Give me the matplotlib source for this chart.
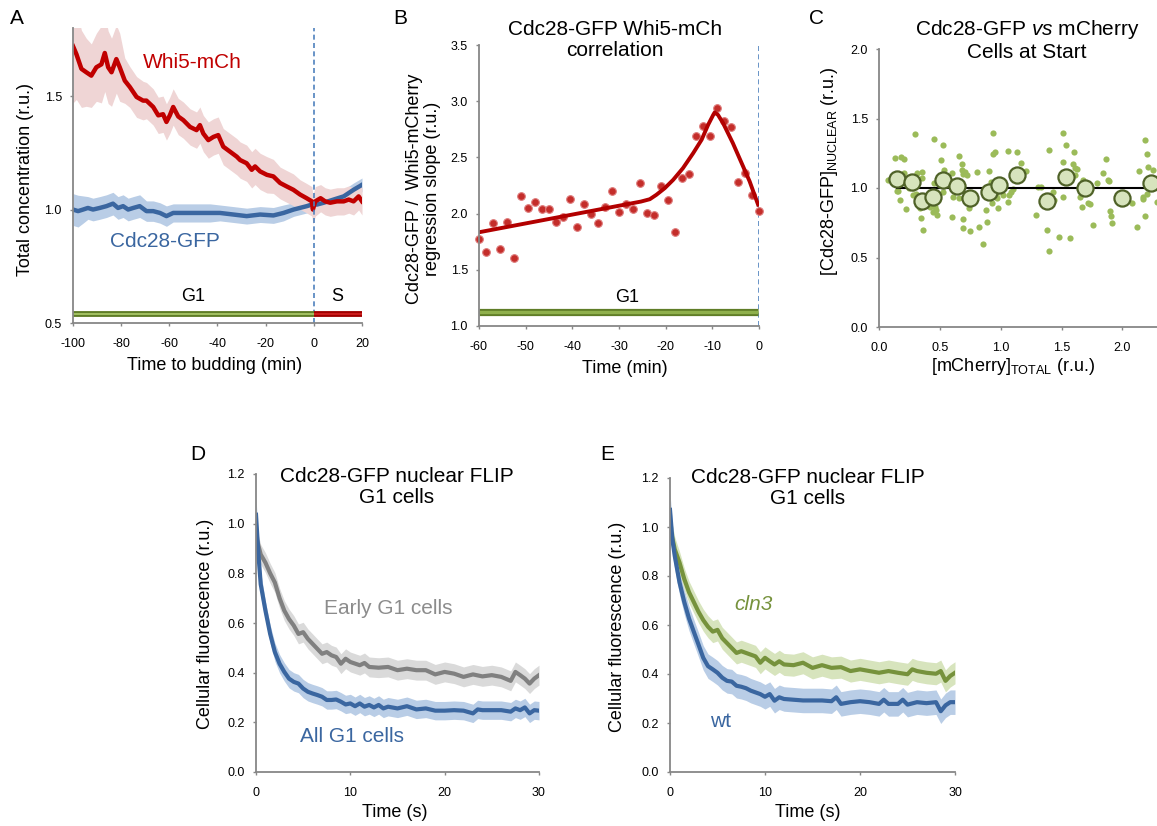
import numpy as np
import matplotlib
matplotlib.use('Agg')
import matplotlib.pyplot as plt
from matplotlib.transforms import Affine2D

plt.rcParams['font.family'] = ['Liberation Sans', 'DejaVu Sans']
plt.rcParams['mathtext.fontset'] = 'custom'
plt.rcParams['mathtext.rm'] = 'Liberation Sans'
plt.rcParams['mathtext.it'] = 'Liberation Sans:italic'
plt.rcParams['axes.unicode_minus'] = False

W, H = 1157, 826

# ---- panel A : total concentration vs time to budding
t_whi5 = [-100, -98.6, -96.5, -94.5, -92.4, -90.3, -88.2, -86.8, -85.4, -84, -82, -80.6,
          -78.5, -76.4, -73.6, -70.9, -69.5, -66.7, -64.6, -62.6, -61.2, -59.8, -58.4,
          -56.3, -54.2, -51.4, -48.7, -47.3, -45.9, -43.8, -41.7, -39.7, -37.6, -34.8,
          -32, -30.6, -27.9, -25.8, -24.4, -22.3, -19.5, -16.8, -14, -11.3, -8.5, -5.7,
          -3, -0.8, -0.4, 0.6, 2.8, 4.7, 6.8, 9.6, 12.4, 14.5, 16.5, 18.6, 20]
whi5 = [1.72, 1.685, 1.62, 1.605, 1.59, 1.627, 1.64, 1.69, 1.627, 1.605, 1.663, 1.627,
        1.568, 1.54, 1.496, 1.48, 1.48, 1.452, 1.415, 1.42, 1.386, 1.415, 1.452,
        1.41, 1.394, 1.364, 1.35, 1.372, 1.335, 1.306, 1.32, 1.328, 1.277, 1.255,
        1.233, 1.218, 1.204, 1.175, 1.19, 1.168, 1.153, 1.146, 1.117, 1.102, 1.087, 1.066,
        1.05, 1.036, 1.0, 1.036, 1.05, 1.036, 1.03, 1.036, 1.036, 1.044, 1.036, 1.058, 1.036]
whi5_err = [0.25, 0.2, 0.17, 0.15, 0.14, 0.15, 0.17, 0.17, 0.16, 0.15, 0.15, 0.15,
            0.1, 0.09, 0.09, 0.085, 0.08, 0.08, 0.08, 0.08, 0.08, 0.08, 0.08,
            0.08, 0.08, 0.08, 0.08, 0.08, 0.08, 0.08, 0.08, 0.08, 0.08, 0.08,
            0.08, 0.08, 0.08, 0.08, 0.08, 0.08, 0.08, 0.075, 0.07, 0.07, 0.07, 0.065,
            0.065, 0.065, 0.065, 0.065, 0.06, 0.06, 0.06, 0.06, 0.06, 0.06, 0.06, 0.06, 0.06]

t_cdc = [-100, -97.9, -95.8, -93.8, -91.7, -88.9, -86.1, -83.4, -81.3, -79.2, -77.1, -75,
         -72.3, -69.5, -66.7, -63.9, -61.2, -58.4, -55.6, -51.4, -47.3, -43.1, -39,
         -33.4, -27.9, -22.3, -16.8, -12.6, -8.4, -2.9, -0.8, 1.3, 4.1, 8.2, 12.4, 16.5, 20]
cdc = [1.0, 0.993, 1.0, 1.007, 1.0, 1.007, 1.015, 1.026, 1.007, 1.015, 1.0, 1.007,
       1.015, 0.993, 0.993, 0.985, 0.971, 0.985, 0.985, 0.985, 0.985, 0.985, 0.985,
       0.978, 0.971, 0.978, 0.974, 0.985, 1.0, 1.015, 1.022, 1.022, 1.03, 1.044, 1.058, 1.087, 1.109]
cdc_err = [0.07, 0.07, 0.06, 0.05, 0.05, 0.05, 0.05, 0.05, 0.05, 0.05, 0.05, 0.05,
           0.05, 0.045, 0.045, 0.045, 0.045, 0.04, 0.04, 0.04, 0.04, 0.04, 0.035,
           0.035, 0.035, 0.035, 0.035, 0.035, 0.03, 0.03, 0.03, 0.03, 0.03, 0.03, 0.03, 0.03, 0.03]

# ---- panel B : regression slope
t_slope = np.arange(-60, 0.01, 1.5)
slope = [1.772, 1.662, 1.914, 1.686, 1.923, 1.609, 2.161, 2.054, 2.107, 2.045, 2.045,
         1.926, 1.974, 2.131, 1.885, 2.087, 1.992, 1.914, 2.057, 2.205, 2.015, 2.087,
         2.045, 2.268, 2.009, 1.986, 2.247, 2.122, 1.834, 2.318, 2.348, 2.686, 2.776,
         2.686, 2.936, 2.823, 2.770, 2.280, 2.360, 2.167, 2.027]
t_fit = [-60, -25.3, -23.4, -22.0, -20.2, -18.4, -16.3, -14.1, -12.3, -10.9, -9.8, -9.5,
         -8.8, -7.7, -5.6, -3.4, -2.0, -0.2]
fit = [1.834, 2.107, 2.128, 2.167, 2.226, 2.30, 2.404, 2.538, 2.657, 2.79, 2.879, 2.90,
       2.879, 2.805, 2.627, 2.419, 2.286, 2.08]

# ---- panel C : cells at Start
cells_x = [0.071, 0.132, 0.145, 0.16, 0.178, 0.205, 0.173, 0.222, 0.205, 0.25, 0.28, 0.296,
           0.277, 0.30, 0.31, 0.337, 0.351, 0.351, 0.345, 0.364, 0.392, 0.40, 0.405, 0.42,
           0.452, 0.455, 0.447, 0.46, 0.47, 0.474, 0.485, 0.512, 0.529, 0.529, 0.534,
           0.597, 0.603, 0.603, 0.611, 0.66, 0.66, 0.679, 0.679, 0.693, 0.688, 0.693,
           0.707, 0.726, 0.74, 0.748, 0.808, 0.825, 0.852, 0.877, 0.885, 0.904, 0.912,
           0.92, 0.932, 0.94, 0.94, 0.953, 0.96, 0.967, 0.981, 1.016, 1.058, 1.063, 1.071,
           1.088, 1.104, 1.137, 1.164, 1.205, 1.29, 1.304, 1.332, 1.384, 1.40, 1.433,
           1.441, 1.40, 1.479, 1.51, 1.51, 1.515, 1.537, 1.57, 1.603, 1.597, 1.611, 1.63,
           1.61, 1.652, 1.666, 1.68, 1.72, 1.734, 1.762, 1.789, 1.838, 1.866, 1.885,
           1.893, 1.899, 1.907, 1.912, 2.077, 2.123, 2.14, 2.167, 2.173, 2.186, 2.2,
           2.186, 2.208, 2.20, 2.25, 2.282]
cells_y = [1.058, 1.214, 0.981, 0.975, 1.226, 1.207, 0.913, 0.846, 1.106, 1.0, 1.0, 1.387,
           0.95, 0.955, 1.106, 0.853, 1.07, 1.113, 0.781, 0.697, 0.913, 0.95, 0.877, 0.86,
           1.353, 1.038, 0.829, 0.865, 0.84, 0.805, 0.913, 1.202, 1.31, 0.974, 1.13,
           1.01, 1.106, 0.788, 0.938, 1.231, 0.93, 1.171, 1.13, 1.101, 0.774, 0.709,
           1.118, 1.094, 0.853, 0.69, 1.118, 0.721, 0.594, 0.841, 0.757, 1.125, 0.962,
           1.04, 0.894, 1.394, 1.243, 1.262, 0.95, 0.926, 0.853, 0.95, 1.269, 0.901, 0.95,
           0.969, 0.99, 1.262, 1.183, 1.123, 0.805, 1.01, 1.01, 0.697, 1.274, 0.974,
           0.913, 0.548, 0.644, 1.394, 1.19, 0.933, 1.31, 0.642, 1.262, 1.173, 1.142, 1.135,
           1.09, 0.933, 0.861, 1.06, 0.89, 0.885, 0.733, 1.038, 1.106, 1.207, 1.06,
           1.05, 0.837, 0.798, 0.75, 0.889, 0.721, 1.123, 0.938, 0.921, 1.346, 1.243,
           0.798, 1.154, 0.96, 1.13, 0.901]
bin_x = [0.151, 0.274, 0.356, 0.447, 0.523, 0.638, 0.748, 0.904, 0.986, 1.132, 1.378,
         1.537, 1.693, 1.995, 2.233]
bin_y = [1.065, 1.045, 0.905, 0.935, 1.06, 1.015, 0.93, 0.97, 1.02, 1.09, 0.905,
         1.08, 1.0, 0.93, 1.037]

# ---- panel D : FLIP early vs all G1
t_early = [0, 0.5, 1, 1.5, 2, 2.5, 3, 3.5, 4, 4.5, 5, 5.5, 6, 6.5, 7, 7.5, 8, 8.5, 9, 9.5,
           10, 11, 11.5, 12, 13, 14, 15, 16, 17, 18, 19, 20, 21, 22, 23, 24, 25, 26, 27,
           27.5, 28, 28.5, 29, 29.5, 30]
early = [0.95, 0.876, 0.843, 0.80, 0.763, 0.70, 0.65, 0.616, 0.59, 0.556, 0.563, 0.536,
         0.516, 0.496, 0.476, 0.483, 0.47, 0.463, 0.436, 0.456, 0.443, 0.43, 0.439, 0.423,
         0.42, 0.423, 0.41, 0.416, 0.41, 0.41, 0.393, 0.403, 0.396, 0.383, 0.393, 0.385,
         0.39, 0.383, 0.367, 0.403, 0.39, 0.376, 0.356, 0.376, 0.39]
t_allg1 = [0, 0.25, 0.5, 1, 1.5, 2, 2.5, 3, 3.5, 4, 4.5, 5, 5.5, 6, 6.5, 7, 7.5, 8, 8.5, 9,
           9.5, 10, 10.5, 11, 11.5, 12, 12.5, 13, 13.5, 14, 15, 16, 17, 18, 19, 20, 21, 22,
           23, 23.5, 24, 25, 26, 27, 27.5, 28, 28.5, 29, 29.5, 30]
allg1 = [1.036, 0.88, 0.756, 0.65, 0.556, 0.483, 0.436, 0.403, 0.376, 0.363, 0.356, 0.336,
         0.323, 0.316, 0.31, 0.303, 0.29, 0.29, 0.292, 0.283, 0.272, 0.276, 0.265, 0.276,
         0.263, 0.27, 0.26, 0.27, 0.256, 0.263, 0.256, 0.265, 0.252, 0.256, 0.247, 0.247,
         0.249, 0.247, 0.236, 0.252, 0.249, 0.249, 0.249, 0.243, 0.256, 0.249, 0.26, 0.236,
         0.249, 0.247]

# ---- panel E : FLIP cln3 vs wt
t_cln3 = [0, 0.5, 1, 1.5, 2, 2.5, 3, 3.5, 4, 4.5, 5, 5.5, 6, 6.5, 7, 7.5, 8, 8.5, 9, 9.5,
          10, 10.5, 11, 11.5, 12, 13, 14, 15, 16, 17, 18, 19, 20, 21, 22, 23, 24, 25, 25.5,
          26, 27, 28, 28.5, 29, 29.5, 30]
cln3 = [1.0, 0.909, 0.855, 0.788, 0.734, 0.694, 0.654, 0.62, 0.593, 0.573, 0.58, 0.546,
        0.526, 0.506, 0.486, 0.493, 0.486, 0.479, 0.472, 0.446, 0.466, 0.452, 0.439, 0.452,
        0.439, 0.436, 0.446, 0.425, 0.436, 0.425, 0.428, 0.412, 0.419, 0.412, 0.405, 0.412,
        0.405, 0.399, 0.419, 0.412, 0.405, 0.401, 0.412, 0.372, 0.392, 0.405]
t_wt = [0, 0.25, 0.5, 1, 1.5, 2, 2.5, 3, 3.5, 4, 4.5, 5, 5.5, 6, 6.5, 7, 7.5, 8, 8.5, 9,
        9.5, 10, 10.5, 11, 11.5, 12, 13, 14, 15, 16, 17, 17.5, 18, 19, 20, 21, 22, 22.5, 23,
        24, 24.5, 25, 26, 27, 28, 28.5, 29, 29.5, 30]
wt = [1.07, 0.95, 0.882, 0.774, 0.694, 0.627, 0.573, 0.52, 0.466, 0.432, 0.419, 0.405,
      0.385, 0.372, 0.369, 0.352, 0.348, 0.342, 0.332, 0.325, 0.318, 0.307, 0.318, 0.291,
      0.305, 0.298, 0.295, 0.292, 0.292, 0.292, 0.289, 0.305, 0.278, 0.285, 0.289, 0.285,
      0.278, 0.295, 0.278, 0.278, 0.295, 0.275, 0.285, 0.281, 0.285, 0.248, 0.272, 0.285, 0.285]

RED, RED_BAND = '#c00000', '#efd5d5'
BLUE, BLUE_BAND = '#3a66a0', '#b9cde6'
GRAY, GRAY_BAND = '#808080', '#dadada'
GREEN, GREEN_BAND = '#76923c', '#d7e4bd'
SPINE = '#878787'

fig = plt.figure(figsize=(W / 100, H / 100), dpi=100)
# pixel coordinates, origin top-left
T = Affine2D().scale(1.0 / W, -1.0 / H).translate(0, 1) + fig.transFigure


def add_ax(x0, x1, y0, y1):
    ax = fig.add_axes([x0 / W, 1 - y1 / H, (x1 - x0) / W, (y1 - y0) / H])
    for s in ['top', 'right']:
        ax.spines[s].set_visible(False)
    for s in ['left', 'bottom']:
        ax.spines[s].set_color(SPINE)
        ax.spines[s].set_linewidth(1.3)
    ax.tick_params(direction='out', length=2.5, width=1, color=SPINE, labelsize=9)
    ax.tick_params(axis='x', pad=8)
    ax.tick_params(axis='y', pad=5.5)
    ax.patch.set_alpha(0)
    return ax


def band(ax, t, y, e, color):
    y = np.asarray(y)
    e = np.asarray(e)
    ax.fill_between(t, y - e, y + e, color=color, lw=0)


def labels(ax, xl, xpos, yl, ypos):
    ax.set_xlabel(xl, fontsize=13)
    ax.xaxis.set_label_coords(xpos[0], xpos[1], transform=T)
    ax.set_ylabel(yl, fontsize=13, linespacing=1.05)
    ax.yaxis.set_label_coords(ypos[0], ypos[1], transform=T)


# ---------------- A
axA = add_ax(73, 362, 28, 323)
band(axA, t_cdc, cdc, cdc_err, BLUE_BAND)
band(axA, t_whi5, whi5, whi5_err, RED_BAND)
axA.plot(t_cdc, cdc, color=BLUE, lw=3.2)
axA.plot(t_whi5, whi5, color=RED, lw=3.2)
axA.axvline(0, color='#4f81bd', lw=1.2, ls=(0, (3, 2)))
axA.plot([-100, 0], [0.539, 0.539], color='#5f7d27', lw=4.2, solid_capstyle='butt')
axA.plot([-100, 0], [0.539, 0.539], color='#a3c163', lw=1.4, solid_capstyle='butt')
axA.plot([0, 20], [0.539, 0.539], color='#a00000', lw=4.2, solid_capstyle='butt')
axA.plot([0, 20], [0.539, 0.539], color='#cc1c1c', lw=1.4, solid_capstyle='butt')
axA.set_xlim(-100, 20)
axA.set_ylim(0.5, 1.8)
axA.set_xticks(range(-100, 21, 20))
axA.set_yticks([0.5, 1.0, 1.5])
axA.set_yticklabels(['0.5', '1.0', '1.5'])
axA.text(-50.6, 1.648, 'Whi5-mCh', color=RED, fontsize=15, ha='center', va='center')
axA.text(-61.8, 0.858, 'Cdc28-GFP', color=BLUE, fontsize=15, ha='center', va='center')
axA.text(-50.2, 0.618, 'G1', fontsize=13, ha='center', va='center')
axA.text(9.6, 0.618, 'S', fontsize=13, ha='center', va='center')
labels(axA, 'Time to budding (min)', (215, 357), 'Total concentration (r.u.)', (34, 180))

# ---------------- B
axB = add_ax(479, 759, 45, 326)
axB.axvline(0, color='#4f81bd', lw=1.2, ls=(0, (3, 2)))
axB.plot([-60, -0.3], [1.127, 1.127], color='#5f7d27', lw=5.2, solid_capstyle='butt')
axB.plot([-60, -0.3], [1.127, 1.127], color='#8fb04c', lw=2.4, solid_capstyle='butt')
axB.plot(t_slope, slope, 'o', ms=5.5, color='#c42d2a', mec='#de7b7b', mew=0.8, clip_on=False)
axB.plot(t_fit, fit, color='#b20000', lw=2.8)
axB.set_xlim(-60, 0)
axB.set_ylim(1.0, 3.5)
axB.set_xticks(range(-60, 1, 10))
axB.set_yticks(np.arange(1.0, 3.51, 0.5))
axB.set_yticklabels(['%.1f' % v for v in np.arange(1.0, 3.51, 0.5)])
axB.text(-28.3, 1.258, 'G1', fontsize=13, ha='center', va='center')
labels(axB, 'Time (min)', (625, 360), 'Cdc28-GFP /  Whi5-mCherry\nregression slope (r.u.)', (441, 189))
fig.text(615, 40, 'Cdc28-GFP Whi5-mCh\ncorrelation', transform=T, fontsize=15,
         ha='center', va='center', linespacing=1.15)

# ---------------- C
axC = add_ax(879, 879 + 2.5 * 121.7, 49, 327)
axC.scatter(cells_x, cells_y, s=20, color='#9bbb59', lw=0, zorder=2)
axC.plot([0.15, 2.23], [1.0, 1.0], color='black', lw=1.5, zorder=3)
axC.scatter(bin_x, bin_y, s=135, facecolor='#d7e4bd', edgecolor='#4f6228', lw=1.6, zorder=4)
axC.set_xlim(0, 2.5)
axC.set_ylim(0, 2.0)
axC.set_xticks([0, 0.5, 1.0, 1.5, 2.0])
axC.set_xticklabels(['0.0', '0.5', '1.0', '1.5', '2.0'])
axC.set_yticks([0, 0.5, 1.0, 1.5, 2.0])
axC.set_yticklabels(['0.0', '0.5', '1.0', '1.5', '2.0'])
labels(axC, r'[mCherry]$_{\mathrm{TOTAL}}$ (r.u.)', (1013, 356),
       r'[Cdc28-GFP]$_{\mathrm{NUCLEAR}}$ (r.u.)', (840, 171))
fig.text(1027, 40, 'Cdc28-GFP $\\mathit{vs}$ mCherry\nCells at Start', transform=T,
         fontsize=15, ha='center', va='center', linespacing=1.15)

# ---------------- D
axD = add_ax(256, 539, 474, 772)
band(axD, t_early, early, [0.04] * len(early), GRAY_BAND)
band(axD, t_allg1, allg1, [0.07, 0.06, 0.05] + [0.037] * (len(allg1) - 3), BLUE_BAND)
axD.plot(t_early, early, color=GRAY, lw=3)
axD.plot(t_allg1, allg1, color=BLUE, lw=3)
axD.set_xlim(0, 30)
axD.set_ylim(0, 1.2)
axD.set_xticks([0, 10, 20, 30])
axD.set_yticks(np.arange(0, 1.21, 0.2))
axD.set_yticklabels(['%.1f' % v for v in np.arange(0, 1.21, 0.2)])
axD.text(13.97, 0.657, 'Early G1 cells', color='#8c8c8c', fontsize=15, ha='center', va='center')
axD.text(10.15, 0.141, 'All G1 cells', color=BLUE, fontsize=15, ha='center', va='center')
labels(axD, 'Time (s)', (395, 804), 'Cellular fluorescence (r.u.)', (214, 624))
fig.text(397, 487, 'Cdc28-GFP nuclear FLIP\nG1 cells', transform=T, fontsize=15,
         ha='center', va='center', linespacing=1.15)

# ---------------- E
axE = add_ax(670, 955, 478, 772)
band(axE, t_wt, wt, [0.07, 0.06, 0.055] + [0.05] * (len(wt) - 3), BLUE_BAND)
band(axE, t_cln3, cln3, [0.06, 0.05] + [0.045] * (len(cln3) - 2), GREEN_BAND)
axE.plot(t_cln3, cln3, color=GREEN, lw=3)
axE.plot(t_wt, wt, color=BLUE, lw=3)
axE.set_xlim(0, 30)
axE.set_ylim(0, 1.2)
axE.set_xticks([0, 10, 20, 30])
axE.set_yticks(np.arange(0, 1.21, 0.2))
axE.set_yticklabels(['%.1f' % v for v in np.arange(0, 1.21, 0.2)])
axE.text(8.74, 0.682, 'cln3', color=GREEN, fontsize=15, style='italic', ha='center', va='center')
axE.text(5.37, 0.205, 'wt', color=BLUE, fontsize=15, ha='center', va='center')
labels(axE, 'Time (s)', (808, 804), 'Cellular fluorescence (r.u.)', (626, 627))
fig.text(808, 488, 'Cdc28-GFP nuclear FLIP\nG1 cells', transform=T, fontsize=15,
         ha='center', va='center', linespacing=1.15)

# panel letters
for letter, x, y in [('A', 17, 18), ('B', 400, 18), ('C', 817, 18), ('D', 198, 455), ('E', 607, 455)]:
    fig.text(x, y, letter, transform=T, fontsize=15, ha='center', va='center')

fig.savefig('out.png', dpi=100)
